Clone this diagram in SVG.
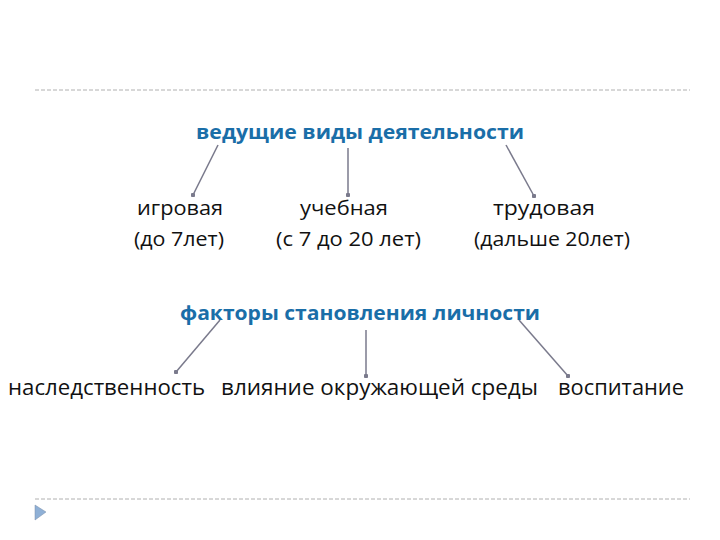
<svg xmlns="http://www.w3.org/2000/svg" width="720" height="540" viewBox="0 0 720 540">
<defs>
<style>
.rule{stroke:#b0b0b0;stroke-width:1;stroke-dasharray:4 2;fill:none}
.head{font-family:"Open Sans","Liberation Sans",sans-serif;font-weight:bold;font-size:19px;fill:#1a6ea8}
.item{font-family:"Open Sans","Liberation Sans",sans-serif;font-size:20px;fill:#111}
.big{font-size:21px}
.conn{stroke:#7a7a8c;stroke-width:1.5;fill:none;marker-end:url(#dot)}
</style>
<marker id="dot" viewBox="0 0 4 4" refX="2" refY="2" markerWidth="3" markerHeight="3" markerUnits="strokeWidth"><circle cx="2" cy="2" r="2" fill="#7a7a8c"/></marker>
</defs>
<rect width="720" height="540" fill="#fff"/>
<line class="rule" x1="35" y1="90" x2="690" y2="90"/>
<line class="rule" x1="35" y1="499" x2="690" y2="499"/>
<polygon points="35,505 46,512 35,520" fill="#8fb0d6" stroke="#7a8fa8" stroke-width="0.5"/>
<g id="connectors">
<line class="conn" x1="218" y1="145" x2="193" y2="195"/>
<line class="conn" x1="348" y1="148" x2="348" y2="195"/>
<line class="conn" x1="506" y1="145" x2="534" y2="196"/>
<line class="conn" x1="220" y1="320" x2="176" y2="372"/>
<line class="conn" x1="366" y1="330" x2="366" y2="376"/>
<line class="conn" x1="519" y1="320" x2="568" y2="376"/>
</g>
<g id="n-head1"><text class="head" x="196" y="139" textLength="328" lengthAdjust="spacingAndGlyphs">ведущие виды деятельности</text></g>
<g id="n-game"><text class="item" x="137" y="215" textLength="86" lengthAdjust="spacingAndGlyphs">игровая</text><text class="item" x="134" y="246" textLength="90" lengthAdjust="spacingAndGlyphs">(до 7лет)</text></g>
<g id="n-study"><text class="item" x="300" y="215" textLength="88" lengthAdjust="spacingAndGlyphs">учебная</text><text class="item" x="276" y="246" textLength="145" lengthAdjust="spacingAndGlyphs">(с 7 до 20 лет)</text></g>
<g id="n-work"><text class="item" x="493" y="215" textLength="102" lengthAdjust="spacingAndGlyphs">трудовая</text><text class="item" x="474" y="246" textLength="156" lengthAdjust="spacingAndGlyphs">(дальше 20лет)</text></g>
<g id="n-head2"><text class="head" x="180" y="320" textLength="360" lengthAdjust="spacingAndGlyphs">факторы становления личности</text></g>
<g id="n-hered"><text class="item big" x="8" y="395" textLength="197" lengthAdjust="spacingAndGlyphs">наследственность</text></g>
<g id="n-env"><text class="item big" x="221" y="395" textLength="317" lengthAdjust="spacingAndGlyphs">влияние окружающей среды</text></g>
<g id="n-edu"><text class="item big" x="558" y="395" textLength="126" lengthAdjust="spacingAndGlyphs">воспитание</text></g>
</svg>
